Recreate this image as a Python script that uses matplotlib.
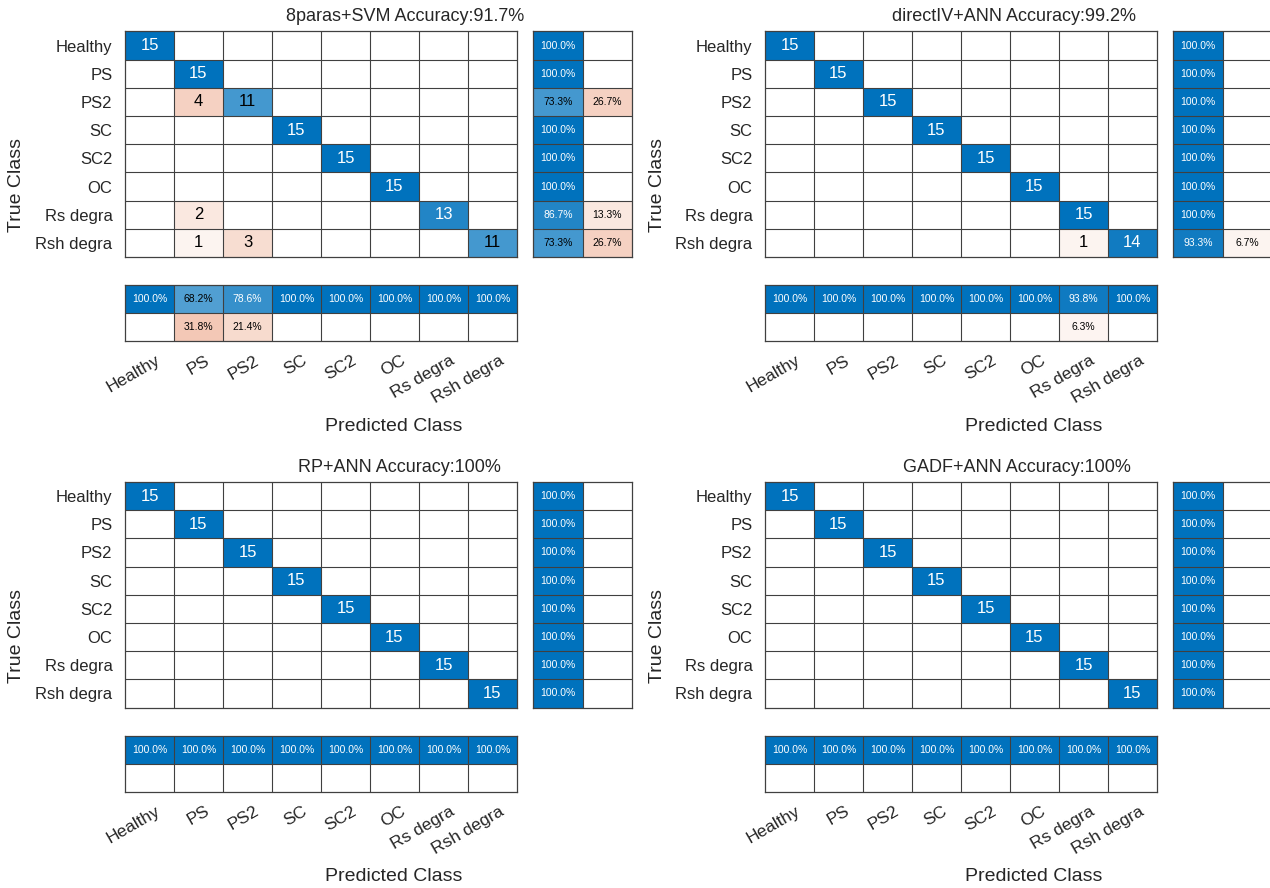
import numpy as np
import matplotlib
matplotlib.use('Agg')
import matplotlib.pyplot as plt
from matplotlib.colors import LinearSegmentedColormap
from matplotlib.transforms import offset_copy

plt.rcParams['font.family'] = ['Liberation Sans', 'DejaVu Sans']

# classes and confusion matrices (rows = true, cols = predicted)
classes = ['Healthy', 'PS', 'PS2', 'SC', 'SC2', 'OC', 'Rs degra', 'Rsh degra']
names = ['8paras+SVM', 'directIV+ANN', 'RP+ANN', 'GADF+ANN']

cm_svm = np.diag([15, 15, 11, 15, 15, 15, 13, 11])
cm_svm[2, 1] = 4
cm_svm[6, 1] = 2
cm_svm[7, 1] = 1
cm_svm[7, 2] = 3

cm_iv = np.diag([15, 15, 15, 15, 15, 15, 15, 14])
cm_iv[7, 6] = 1

cm_rp = np.diag([15, 15, 15, 15, 15, 15, 15, 15])
cm_gadf = np.diag([15, 15, 15, 15, 15, 15, 15, 15])

mats = [cm_svm, cm_iv, cm_rp, cm_gadf]

W, H = 1270, 888
fig = plt.figure(figsize=(W / 100, H / 100), dpi=100)

blue = '#0072BD'
orange = '#D95319'
cm_blue = LinearSegmentedColormap.from_list('b', ['white', blue])
cm_orange = LinearSegmentedColormap.from_list('o', ['white', orange])
edge = '#404040'
txt = '#262626'


def px_axes(x0, y0, w, h):
    return fig.add_axes([x0 / W, 1 - (y0 + h) / H, w / W, h / H])


def pct(v):
    return '%.1f%%' % (np.floor(v * 10 + 0.5) / 10)


def grid_axes(ax, nr, nc):
    ax.set_xlim(0, nc)
    ax.set_ylim(nr, 0)
    ax.vlines(np.arange(1, nc), 0, nr, color=edge, lw=0.8)
    ax.hlines(np.arange(1, nr), 0, nc, color=edge, lw=0.8)
    for s in ax.spines.values():
        s.set_color(edge)
        s.set_linewidth(0.9)
    ax.set_xticks([])
    ax.set_yticks([])


def draw_cells(ax, good, bad, fs, fmt):
    # good -> blue shades, bad -> orange shades, both scaled 0..1
    ax.pcolormesh(np.ma.masked_less_equal(good, 0), cmap=cm_blue, vmin=0, vmax=1)
    ax.pcolormesh(np.ma.masked_less_equal(bad, 0), cmap=cm_orange, vmin=0, vmax=1)
    for (r, c), f in np.ndenumerate(good + bad):
        if f > 0:
            ax.text(c + 0.5, r + 0.5, fmt(r, c), ha='center', va='center',
                    fontsize=fs, color='white' if f > 0.75 else 'black')


def confusion(cm, name, x0, y0, tx):
    n = len(classes)
    vmax = cm.max()
    diag = np.eye(n, dtype=bool)

    ax = px_axes(x0, y0, 392, 225.5)
    good = np.where(diag, cm / vmax, 0)
    bad = np.where(diag, 0, cm / vmax)
    draw_cells(ax, good, bad, 12, lambda r, c: str(cm[r, c]))
    grid_axes(ax, n, n)
    ax.set_yticks(np.arange(n) + 0.5)
    ax.set_yticklabels(classes, fontsize=12, color=txt)
    ax.tick_params(axis='y', length=0, pad=9)

    # row summary: per true class
    rows = cm.sum(axis=1)
    rp = np.stack([np.diag(cm) / rows, 1 - np.diag(cm) / rows], axis=1)
    ax_r = px_axes(x0 + 408, y0, 99, 225.5)
    draw_cells(ax_r, np.stack([rp[:, 0], 0 * rp[:, 0]], 1),
               np.stack([0 * rp[:, 1], rp[:, 1]], 1), 7.5,
               lambda r, c: pct(rp[r, c] * 100))
    grid_axes(ax_r, n, 2)

    # column summary: per predicted class
    cols = cm.sum(axis=0)
    cp = np.stack([np.diag(cm) / cols, 1 - np.diag(cm) / cols], axis=0)
    ax_c = px_axes(x0, y0 + 253.5, 392, 56)
    draw_cells(ax_c, np.stack([cp[0], 0 * cp[0]], 0),
               np.stack([0 * cp[1], cp[1]], 0), 7.5,
               lambda r, c: pct(cp[r, c] * 100))
    grid_axes(ax_c, 2, n)
    tr = offset_copy(ax_c.get_xaxis_transform(), fig=fig, x=6, y=-12, units='dots')
    for i, lab in enumerate(classes):
        ax_c.text(i + 0.5, 0, lab, transform=tr, rotation=30, ha='right', va='top',
                  rotation_mode='anchor', fontsize=12.5, color=txt)

    acc = np.trace(cm) / cm.sum() * 100
    acc_s = '100' if acc == 100 else '%.1f' % acc
    fig.text(tx / W, 1 - (y0 - 15) / H, f'{name} Accuracy:{acc_s}%',
             ha='center', va='center', fontsize=13, color=txt)
    fig.text((x0 - 108) / W, 1 - (y0 + 154) / H, 'True Class', rotation=90,
             ha='center', va='center', fontsize=14, color=txt)
    fig.text((x0 + 269) / W, 1 - (y0 + 394.5) / H, 'Predicted Class',
             ha='center', va='center', fontsize=14, color=txt)


origins = [(125, 31.5), (765, 31.5), (125, 482), (765, 482)]
title_x = [405, 1014, 399, 1017]
for cm, name, (x0, y0), tx in zip(mats, names, origins, title_x):
    confusion(cm, name, x0, y0, tx)

plt.savefig('out.png', dpi=100)
